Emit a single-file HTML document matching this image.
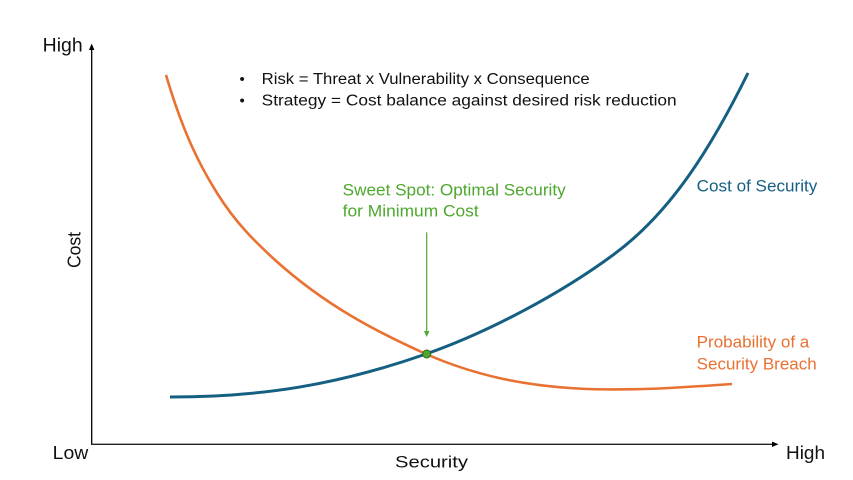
<!DOCTYPE html>
<html>
<head>
<meta charset="utf-8">
<style>
  html, body { margin: 0; padding: 0; background: #ffffff; }
  body { width: 853px; height: 480px; overflow: hidden; }
  svg { display: block; }
  text { font-family: "Liberation Sans", "DejaVu Sans", sans-serif; }
</style>
</head>
<body>
<svg width="853" height="480" viewBox="0 0 853 480" xmlns="http://www.w3.org/2000/svg">
  <rect x="0" y="0" width="853" height="480" fill="#ffffff"/>

  <!-- Axes -->
  <line x1="91.7" y1="444.3" x2="91.7" y2="49" stroke="#000" stroke-width="1.3"/>
  <polygon points="91.7,43.5 89,50 94.4,50" fill="#000"/>
  <line x1="91" y1="444.3" x2="773" y2="444.3" stroke="#222" stroke-width="1.3"/>
  <polygon points="778.5,444.3 772,441.6 772,447" fill="#000"/>

  <!-- Axis labels -->
  <text x="42.7" y="51.3" font-size="19" fill="#111" textLength="40" lengthAdjust="spacingAndGlyphs">High</text>
  <text x="52.7" y="459" font-size="18.5" fill="#111" textLength="35.6" lengthAdjust="spacingAndGlyphs">Low</text>
  <text x="786" y="459" font-size="18.5" fill="#111" textLength="39" lengthAdjust="spacingAndGlyphs">High</text>
  <text x="395" y="467.7" font-size="17" fill="#111" textLength="73" lengthAdjust="spacingAndGlyphs">Security</text>
  <text x="0" y="0" font-size="18" fill="#111" transform="translate(80.5,268) rotate(-90)" textLength="36" lengthAdjust="spacingAndGlyphs">Cost</text>

  <!-- Bullets -->
  <text x="239.5" y="84" font-size="15" fill="#111">•</text>
  <text x="261.7" y="84" font-size="15.5" fill="#111" textLength="328" lengthAdjust="spacingAndGlyphs">Risk = Threat x Vulnerability x Consequence</text>
  <text x="239.5" y="105.3" font-size="15" fill="#111">•</text>
  <text x="261.7" y="105.3" font-size="15.5" fill="#111" textLength="415" lengthAdjust="spacingAndGlyphs">Strategy = Cost balance against desired risk reduction</text>

  <!-- Orange curve: Probability of a Security Breach -->
  <path fill="none" stroke="#E97132" stroke-width="2.6" stroke-linecap="butt" d="
    M166,75
    C183,132.8 200,165.8 217,193
    C236.3,223.9 255.7,242.2 275,260
    C325.3,305.3 375.7,331.4 426,354
    C526,398 622,391.7 732,384"/>

  <!-- Blue curve: Cost of Security -->
  <path fill="none" stroke="#156082" stroke-width="3" stroke-linecap="butt" d="
    M170,397
    C260,397 336,385.5 426,354
    C488.3,332.2 560,294 613,255
    C670,213.4 710,150 748,73"/>

  <!-- Sweet spot annotation -->
  <line x1="426.7" y1="232.3" x2="426.7" y2="332" stroke="#4EA72E" stroke-width="1.2"/>
  <polygon points="426.7,337 424,331 429.4,331" fill="#4EA72E"/>
  <circle cx="426.7" cy="354" r="4" fill="#4EA72E" stroke="#2E6B1C" stroke-width="1"/>

  <text x="342.7" y="195.7" font-size="16.5" fill="#4EA72E" textLength="223" lengthAdjust="spacingAndGlyphs">Sweet Spot: Optimal Security</text>
  <text x="342.7" y="216.7" font-size="16.5" fill="#4EA72E" textLength="136" lengthAdjust="spacingAndGlyphs">for Minimum Cost</text>

  <!-- Series labels -->
  <text x="696.7" y="191.7" font-size="16.5" fill="#156082" textLength="120.6" lengthAdjust="spacingAndGlyphs">Cost of Security</text>
  <text x="696.7" y="347.3" font-size="16.5" fill="#E97132" textLength="112.6" lengthAdjust="spacingAndGlyphs">Probability of a</text>
  <text x="696.7" y="369.3" font-size="16.5" fill="#E97132" textLength="120" lengthAdjust="spacingAndGlyphs">Security Breach</text>
</svg>
</body>
</html>
